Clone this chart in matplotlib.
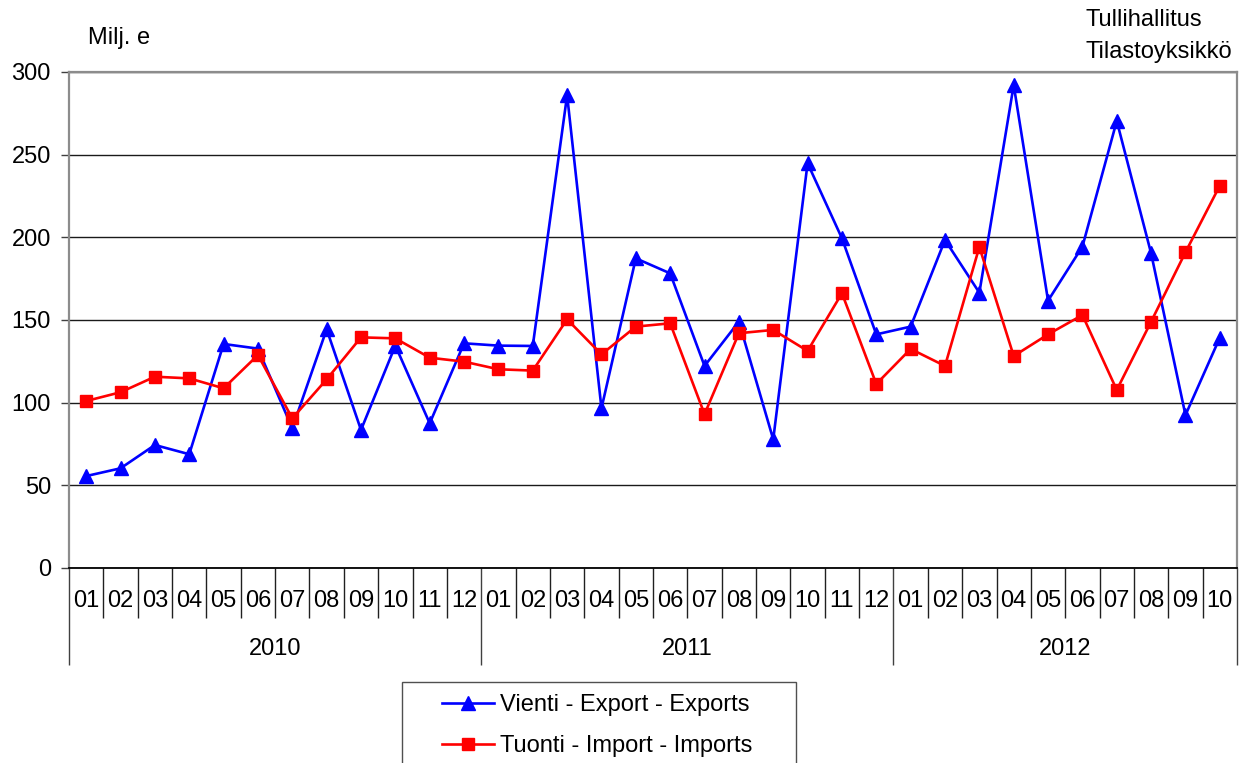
import matplotlib
matplotlib.use("Agg")
import matplotlib.pyplot as plt
import matplotlib.transforms as mtransforms
from matplotlib.patches import Rectangle
import numpy as np

plt.rcParams['font.family'] = ['Liberation Sans', 'DejaVu Sans']

# monthly values, Milj. e
months = ['01', '02', '03', '04', '05', '06', '07', '08', '09', '10', '11', '12',
          '01', '02', '03', '04', '05', '06', '07', '08', '09', '10', '11', '12',
          '01', '02', '03', '04', '05', '06', '07', '08', '09', '10']
years = ['2010', '2011', '2012']
months_per_year = [12, 12, 10]

exports = [55.6, 60.3, 74.4, 68.8, 135.5, 132.7, 84.5, 144.4, 83.5, 134.5, 87.5, 135.9,
           134.5, 134.3, 286.0, 96.6, 187.3, 178.2, 122.2, 149.0, 77.8, 244.8, 199.4, 141.3,
           146.0, 198.4, 166.5, 292.1, 161.7, 194.4, 270.4, 190.3, 92.5, 139.3]
imports = [101.0, 106.3, 115.7, 114.7, 108.7, 128.8, 90.5, 114.1, 139.5, 138.9, 127.2, 124.8,
           120.2, 119.4, 150.4, 129.2, 146.0, 148.0, 93.0, 142.0, 144.0, 131.3, 166.2, 111.3,
           132.5, 122.2, 194.2, 128.2, 141.3, 153.0, 107.7, 149.0, 191.0, 231.3]

W, H = 1247, 763
fig = plt.figure(figsize=(W / 100, H / 100), dpi=100)
ax = fig.add_axes([69 / W, 1 - 568 / H, (1237 - 69) / W, (568 - 72) / H])

x = np.arange(len(months))
fs = 17

ax.plot(x, exports, color='#0000ff', lw=1.9, marker='^', ms=9.5,
        label='Vienti - Export - Exports', zorder=3, clip_on=False)
ax.plot(x, imports, color='#ff0000', lw=1.9, marker='s', ms=9,
        label='Tuonti - Import - Imports', zorder=4, clip_on=False)

ax.set_xlim(-0.5, len(months) - 0.5)
ax.set_ylim(0, 300)
ax.set_yticks(range(0, 301, 50))
ax.tick_params(axis='y', length=6, width=1, color='#404040', labelsize=fs, pad=7)
ax.yaxis.grid(True, color='#1a1a1a', lw=1)
ax.set_axisbelow(True)

for side in ['top', 'right', 'left']:
    ax.spines[side].set_color('#8c8c8c')
    ax.spines[side].set_linewidth(1.6)
ax.spines['bottom'].set_color('#000000')
ax.spines['bottom'].set_linewidth(1.3)

# category axis: month dividers short, year dividers long
bounds = np.arange(len(months) + 1) - 0.5
year_bounds = np.concatenate([[0], np.cumsum(months_per_year)]) - 0.5
ax.set_xticks(year_bounds)
ax.set_xticklabels([])
ax.set_xticks(bounds, minor=True)
ax.tick_params(axis='x', which='major', length=70, width=1, color='#404040', direction='out')
ax.tick_params(axis='x', which='minor', length=36, width=1, color='#202020', direction='out')

trans = mtransforms.blended_transform_factory(ax.transData, ax.transAxes)
for xi, m in zip(x, months):
    ax.text(xi, -0.067, m, transform=trans, ha='center', va='center', fontsize=fs)
start = 0
for y, n in zip(years, months_per_year):
    ax.text(start + (n - 1) / 2, -0.163, y, transform=trans, ha='center', va='center', fontsize=fs)
    start += n

fig.text(88 / W, 1 - 38 / H, 'Milj. e', ha='left', va='center', fontsize=fs)
fig.text(1085 / W, 1 - 20 / H, 'Tullihallitus', ha='left', va='center', fontsize=fs)
fig.text(1085 / W, 1 - 52 / H, 'Tilastoyksikkö', ha='left', va='center', fontsize=fs)

# legend box runs off the bottom edge
fig.patches.append(Rectangle((402 / W, -40 / H), 394 / W, (763 + 40 - 682) / H,
                             transform=fig.transFigure, fill=False,
                             edgecolor='#505050', lw=1))
fig.legend(loc='upper left', bbox_to_anchor=(442 / W, 1 - 694 / H),
           frameon=False, fontsize=fs, handlelength=2.2, handletextpad=0.25,
           borderpad=0, borderaxespad=0, labelspacing=0.8)

fig.savefig('out.png', dpi=100)
